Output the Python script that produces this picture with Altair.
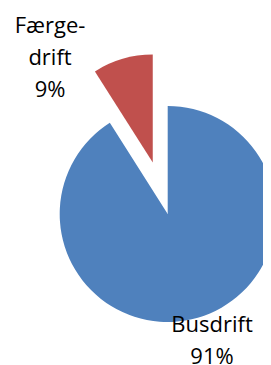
import altair as alt
import pandas as pd
import numpy as np

categories = ["Busdrift", "Færgedrift"]
values = [91, 9]
label_lines = [["Busdrift", "91%"], ["Færge-", "drift", "9%"]]
colors = ["#4F81BD", "#C0504D"]

df = pd.DataFrame({"category": categories, "value": values})
df["order"] = range(len(df))
total = sum(values)

# layout (pixels inside the chart)
cx, cy, r = 159.7, 206.0, 108
explode = 53.5
start = np.cumsum([0] + values[:-1]) / total
mid = (start + np.array(values) / total / 2) * 2 * np.pi
centers = [(cx, cy), (cx + explode * np.sin(mid[1]), cy - explode * np.cos(mid[1]))]

base = alt.Chart(df).transform_window(
    end="sum(value)", sort=[alt.SortField("order")], frame=[None, 0]
).transform_calculate(start="datum.end - datum.value")

layers = []
for i, cat in enumerate(categories):
    layers.append(
        base.transform_filter(alt.datum.category == cat).mark_arc(
            radius=r, color=colors[i]
        ).encode(
            theta=alt.Theta("start:Q", scale=alt.Scale(domain=[0, total], range=[0, 2 * np.pi])),
            theta2="end:Q",
            x=alt.value(centers[i][0]),
            y=alt.value(centers[i][1]),
        )
    )

label_df = pd.DataFrame({"category": categories, "text": ["\n".join(l) for l in label_lines]})
label_pos = [(204, 324), (42, 25)]
for i, cat in enumerate(categories):
    layers.append(
        alt.Chart(label_df).transform_filter(alt.datum.category == cat).mark_text(
            font="Open Sans", fontSize=22, align="center", baseline="alphabetic",
            lineBreak="\n", lineHeight=32, color="#000000"
        ).encode(
            text="text:N",
            x=alt.value(label_pos[i][0]),
            y=alt.value(label_pos[i][1]),
        )
    )

chart = alt.layer(*layers).properties(
    width=255, height=357, padding=0, autosize="none"
).configure_view(stroke=None)

chart.save("out.html", embed_options={"renderer": "svg", "actions": False})
